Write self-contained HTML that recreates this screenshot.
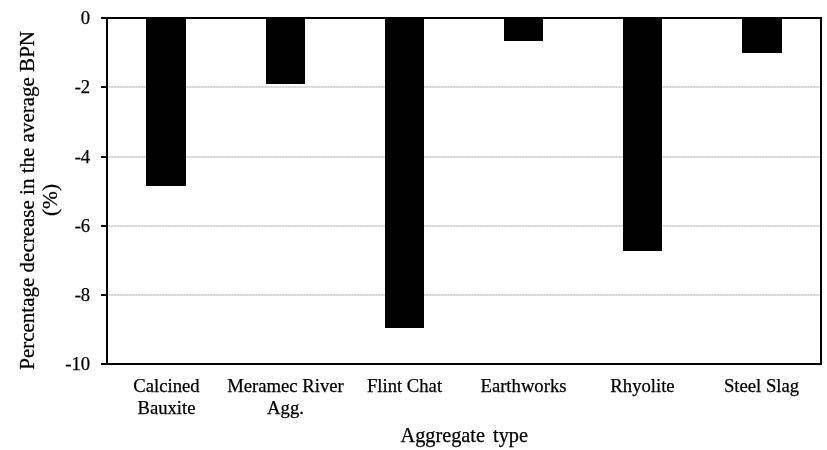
<!DOCTYPE html>
<html>
<head>
<meta charset="utf-8">
<title>Percentage decrease in the average BPN</title>
<style>
html,body{margin:0;padding:0;background:#fff;}
body{width:827px;height:450px;overflow:hidden;}
svg{display:block;}
text{font-family:"Liberation Serif","Times New Roman",serif;fill:#000;stroke:#000;stroke-width:0.25px;}
.tk{font-size:18.67px;text-anchor:end;}
.cat{font-size:18.67px;text-anchor:middle;}
.ttl{font-size:21.33px;text-anchor:middle;}
</style>
</head>
<body>
<svg width="827" height="450" viewBox="0 0 827 450">
<rect x="0" y="0" width="827" height="450" fill="#fff"/>
<!-- gridlines -->
<g stroke="#e4e4e4" stroke-width="2">
<line x1="108.5" y1="87" x2="820" y2="87"/>
<line x1="108.5" y1="157" x2="820" y2="157"/>
<line x1="108.5" y1="226" x2="820" y2="226"/>
<line x1="108.5" y1="295" x2="820" y2="295"/>
</g>
<g stroke="#c2c2c2" stroke-width="0.9" stroke-dasharray="1.6 1.4">
<line x1="108.5" y1="87" x2="820" y2="87"/>
<line x1="108.5" y1="157" x2="820" y2="157"/>
<line x1="108.5" y1="226" x2="820" y2="226"/>
<line x1="108.5" y1="295" x2="820" y2="295"/>
</g>
<!-- bars -->
<g fill="#000">
<rect x="146" y="18" width="40" height="168"/>
<rect x="266" y="18" width="39" height="66"/>
<rect x="385" y="18" width="39" height="310"/>
<rect x="504" y="18" width="39" height="23"/>
<rect x="623" y="18" width="39" height="233"/>
<rect x="742" y="18" width="40" height="35"/>
</g>
<!-- plot border -->
<rect x="107" y="18" width="714" height="346" fill="none" stroke="#000" stroke-width="2"/>
<!-- ticks -->
<g stroke="#000" stroke-width="2">
<line x1="101" y1="18" x2="107" y2="18"/>
<line x1="101" y1="87" x2="107" y2="87"/>
<line x1="101" y1="157" x2="107" y2="157"/>
<line x1="101" y1="226" x2="107" y2="226"/>
<line x1="101" y1="295" x2="107" y2="295"/>
<line x1="101" y1="364" x2="107" y2="364"/>
</g>
<!-- y tick labels -->
<text class="tk" x="90.2" y="24">0</text>
<text class="tk" x="90.2" y="93">-2</text>
<text class="tk" x="90.2" y="163">-4</text>
<text class="tk" x="90.2" y="232">-6</text>
<text class="tk" x="90.2" y="301">-8</text>
<text class="tk" x="90.2" y="370">-10</text>
<!-- category labels -->
<text class="cat" x="166.5" y="391.6">Calcined</text>
<text class="cat" x="166.5" y="414.2">Bauxite</text>
<text class="cat" x="285.5" y="391.6">Meramec River</text>
<text class="cat" x="285.5" y="414.2">Agg.</text>
<text class="cat" x="404.5" y="391.6">Flint Chat</text>
<text class="cat" x="523.5" y="391.6">Earthworks</text>
<text class="cat" x="642.5" y="391.6">Rhyolite</text>
<text class="cat" x="761.5" y="391.6">Steel Slag</text>
<!-- axis titles -->
<text x="400.5" y="441.5" style="font-size:20.3px;word-spacing:3px">Aggregate type</text>
<text class="ttl" style="font-size:21px" transform="translate(34,200.4) rotate(-90)">Percentage decrease in the average BPN</text>
<text class="ttl" transform="translate(56.6,200) rotate(-90)">(%)</text>
</svg>
</body>
</html>
